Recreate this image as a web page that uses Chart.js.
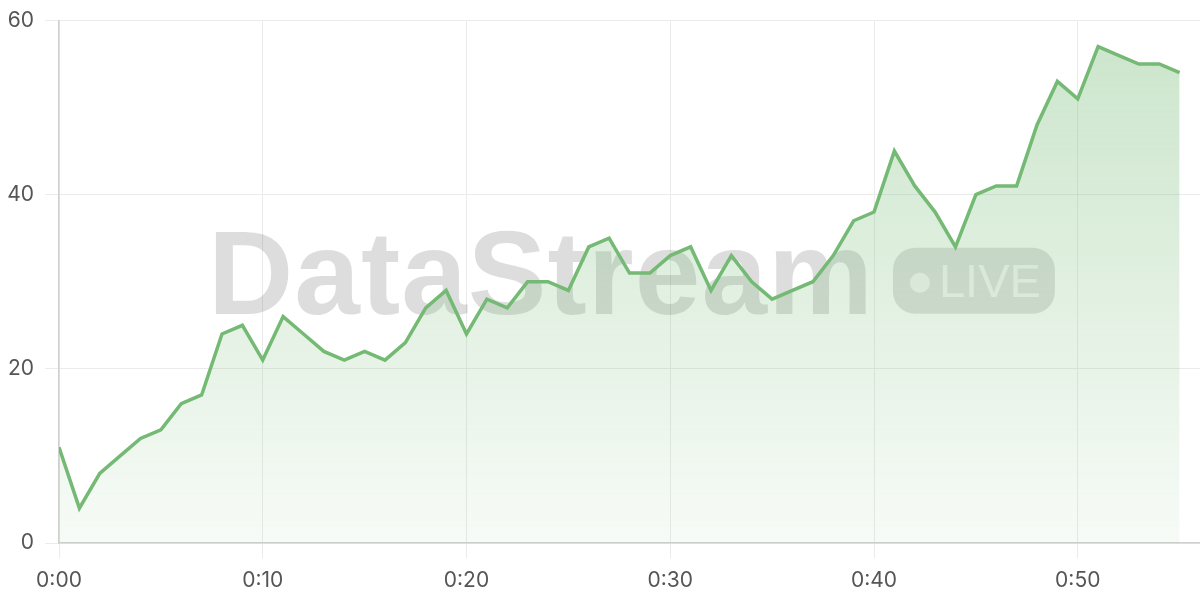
<!DOCTYPE html>
<html>
<head>
<meta charset="utf-8">
<script src="https://cdn.jsdelivr.net/npm/chart.js@4.4.1/dist/chart.umd.min.js"></script>
<style>
  html, body { margin: 0; padding: 0; background: #ffffff; }
  #wrap { width: 1200px; height: 600px; position: relative; }
</style>
</head>
<body>
<div id="wrap"><canvas id="c" width="1200" height="600"></canvas></div>
<script>
// Minutes elapsed (x) and values (y)
const minutes = [0,1,2,3,4,5,6,7,8,9,10,11,12,13,14,15,16,17,18,19,20,21,22,23,24,25,26,27,28,29,30,31,32,33,34,35,36,37,38,39,40,41,42,43,44,45,46,47,48,49,50,51,52,53,54,55];
const values = [11,4,8,10,12,13,16,17,24,25,21,26,24,22,21,22,21,23,27,29,24,28,27,30,30,29,34,35,31,31,33,34,29,33,30,28,29,30,33,37,38,45,41,38,34,40,41,41,48,53,51,57,56,55,55,54];
const xTicks = [0,10,20,30,40,50];
const yTicks = [0,20,40,60];
const watermarkText = 'DataStream';
const badgeText = 'LIVE';

const FONT = 'Inter, "Noto Sans", "DejaVu Sans", sans-serif';
const LINE = 'rgb(116,185,116)';

const watermark = {
  id: 'watermark',
  beforeDatasetsDraw(chart) {
    const { ctx, chartArea } = chart;
    const cx = (chartArea.left + chartArea.right) / 2;
    const cy = (chartArea.top + chartArea.bottom) / 2;
    ctx.save();
    ctx.font = 'bold 118px "Liberation Sans", Arial, sans-serif';
    ctx.letterSpacing = '1px';
    const w1 = ctx.measureText(watermarkText).width;
    const pillW = 162, pillH = 66, gap = 19;
    const total = w1 + gap + pillW;
    const x0 = cx - total / 2 + 2;
    const base = cy + 32;
    ctx.fillStyle = 'rgba(0,0,0,0.135)';
    ctx.textBaseline = 'alphabetic';
    ctx.fillText(watermarkText, x0, base);
    ctx.letterSpacing = '0px';
    // pill
    const px = x0 + w1 + gap, py = base - 66;
    ctx.beginPath();
    ctx.roundRect(px, py, pillW, pillH, 22);
    ctx.fillStyle = 'rgba(0,0,0,0.12)';
    ctx.fill();
    ctx.fillStyle = 'rgba(255,255,255,0.7)';
    ctx.beginPath();
    ctx.arc(px + 27, py + 35, 10, 0, Math.PI * 2);
    ctx.fill();
    ctx.font = '47px "Liberation Sans", Arial, sans-serif';
    ctx.fillText(badgeText, px + 46, base - 17);
    ctx.restore();
  }
};

const ctx = document.getElementById('c').getContext('2d');
new Chart(ctx, {
  type: 'line',
  data: {
    datasets: [{
      data: values.map((v, i) => ({ x: minutes[i], y: v })),
      borderColor: LINE,
      borderWidth: 3.5,
      pointRadius: 0,
      tension: 0,
      fill: 'origin',
      backgroundColor(context) {
        const { chart } = context;
        const area = chart.chartArea;
        if (!area) return 'rgba(116,185,116,0.2)';
        const g = chart.ctx.createLinearGradient(0, area.top, 0, area.bottom);
        g.addColorStop(0, 'rgba(116,185,116,0.38)');
        g.addColorStop(1, 'rgba(116,185,116,0.06)');
        return g;
      }
    }]
  },
  options: {
    responsive: false,
    animation: false,
    layout: { padding: { top: 2, right: 0, left: 0, bottom: 0 } },
    plugins: { legend: { display: false }, tooltip: { enabled: false } },
    scales: {
      x: {
        type: 'linear',
        min: 0,
        max: 56,
        afterBuildTicks(axis) { axis.ticks = xTicks.map(v => ({ value: v })); },
        afterFit(scale) { scale.height = 57; },
        grid: { color: '#ebebeb', lineWidth: 1, tickLength: 15 },
        border: { color: '#d0d0d0', width: 1.5 },
        ticks: {
          color: '#555',
          font: { family: FONT, size: 21 },
          padding: 10,
          maxRotation: 0,
          callback: v => '0:' + String(v).padStart(2, '0')
        }
      },
      y: {
        min: 0,
        max: 60,
        afterBuildTicks(axis) { axis.ticks = yTicks.map(v => ({ value: v })); },
        afterFit(scale) { scale.width = 59; },
        grid: { color: '#ebebeb', lineWidth: 1, tickLength: 14 },
        border: { color: '#d0d0d0', width: 1.5 },
        ticks: {
          color: '#555',
          font: { family: FONT, size: 21, lineHeight: 0.9 },
          padding: 11
        }
      }
    }
  },
  plugins: [watermark]
});
</script>
</body>
</html>
